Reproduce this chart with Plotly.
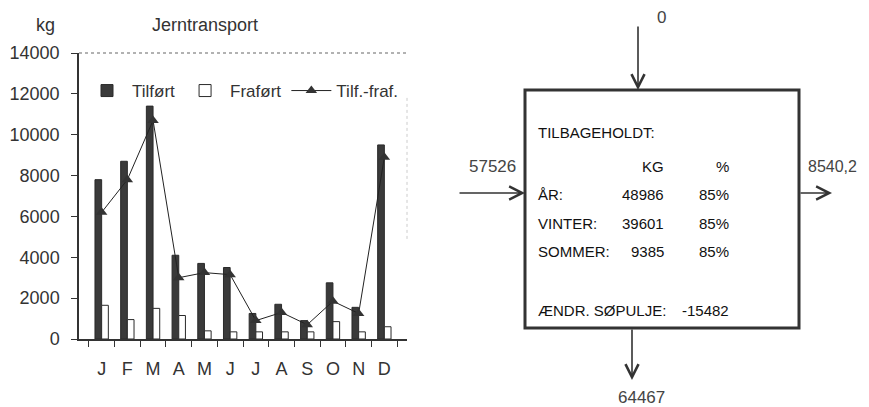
import plotly.graph_objects as go

W, H = 869, 407
OFF = 8  # the page puts the figure 8px in from the top-left corner

months = ["J", "F", "M", "A", "M ", "J ", "J  ", "A ", "S", "O", "N", "D"]
month_labels = ["J", "F", "M", "A", "M", "J", "J", "A", "S", "O", "N", "D"]
tilfort = [7800, 8700, 11400, 4100, 3700, 3500, 1250, 1700, 900, 2750, 1550, 9500]
frafort = [1650, 950, 1500, 1150, 400, 350, 350, 350, 350, 850, 350, 600]
tilf_fraf = [6200, 7800, 10700, 3000, 3250, 3150, 900, 1300, 700, 1850, 1250, 8900]

# diagram numbers
inflow_left = "57526"
inflow_top = "0"
outflow_right = "8540,2"
outflow_bottom = "64467"
rows = ["ÅR:", "VINTER:", "SOMMER:"]
rows_kg = [48986, 39601, 9385]
rows_pct = ["85%", "85%", "85%"]
aendr = -15482

ink = "#333333"
sans = "Liberation Sans, Arial, sans-serif"
axis_font = dict(family=sans, size=18, color=ink)


def px(x):
    return (x - OFF) / W


def py(y):
    return 1 - (y - OFF) / H


fig = go.Figure()
fig.add_trace(go.Bar(x=months, y=tilfort, name="Tilført",
                     marker=dict(color="#3a3a3a", line=dict(color="#2a2a2a", width=1))))
fig.add_trace(go.Bar(x=months, y=frafort, name="Fraført",
                     marker=dict(color="white", line=dict(color="#2a2a2a", width=1))))
fig.add_trace(go.Scatter(x=months, y=tilf_fraf, name="Tilf.-fraf.", mode="lines+markers",
                         line=dict(color="#222", width=1),
                         marker=dict(symbol="triangle-up", size=10, color="#333")))

fig.update_layout(
    width=W, height=H,
    margin=dict(l=0, r=0, t=0, b=0, autoexpand=False),
    paper_bgcolor="white", plot_bgcolor="white",
    barmode="group", bargap=0.48, bargroupgap=0,
    font=axis_font,
    showlegend=True,
    legend=dict(orientation="h", x=px(82), y=py(73), xanchor="left", yanchor="top",
                bgcolor="rgba(0,0,0,0)", font=dict(family=sans, size=17, color=ink),
                itemwidth=40, tracegroupgap=0),
    xaxis=dict(domain=[px(79), px(407)], type="category", automargin=False,
               tickmode="array", tickvals=months, ticktext=month_labels,
               showline=True, linecolor=ink, linewidth=1.5,
               ticks="outside", tickson="boundaries", ticklen=6, tickcolor=ink,
               ticklabelstandoff=13, showgrid=False, zeroline=False),
    yaxis=dict(domain=[py(339), py(53)], range=[0, 14000], dtick=2000, tickformat="d",
               automargin=False,
               showline=True, linecolor=ink, linewidth=1.5,
               ticks="outside", ticklen=6, tickcolor=ink, ticklabelstandoff=8,
               showgrid=False, zeroline=False),
)

# faint top border of the chart area
fig.add_shape(type="line", xref="x domain", yref="y domain", x0=0, x1=1, y0=1, y1=1,
              line=dict(color="#999", width=1.5, dash="dot"))
fig.add_shape(type="line", xref="x domain", yref="y domain", x0=1, x1=1, y0=0.35, y1=0.85,
              line=dict(color="#ccc", width=1, dash="dot"))


def label(t, x, y, font, anchor="center"):
    fig.add_annotation(text=t, x=px(x), y=py(y), xref="paper", yref="paper",
                       xanchor=anchor, yanchor="middle", showarrow=False, font=font)


label("kg", 45, 25, axis_font)
label("Jerntransport", 205, 25, axis_font)

# mass balance box
fig.add_shape(type="rect", xref="paper", yref="paper",
              x0=px(525), x1=px(799), y0=py(328), y1=py(90),
              line=dict(color=ink, width=3))

arrow = dict(showarrow=True, arrowhead=5, arrowsize=1.6, arrowwidth=1.6,
             arrowcolor=ink, xref="paper", yref="paper", text="")
fig.add_annotation(x=px(638), y=py(90), ax=0, ay=-65, **arrow)
fig.add_annotation(x=px(525), y=py(193), ax=-67, ay=0, **arrow)
fig.add_annotation(x=px(832), y=py(193), ax=-33, ay=0, **arrow)
fig.add_annotation(x=px(632), y=py(380), ax=0, ay=-52, **arrow)

flow_font = dict(family=sans, size=17, color="#444")
label(inflow_top, 661, 18, flow_font)
label(inflow_left, 518, 166, flow_font, "right")
label(outflow_right, 859, 166, dict(flow_font, size=16), "right")
label(outflow_bottom, 641, 397, flow_font)

box_font = dict(family=sans, size=15, color="#111")
label("TILBAGEHOLDT:", 536, 133, box_font, "left")
label("KG", 666, 166, box_font, "right")
label("%", 731, 166, box_font, "right")
row_y = [194, 223, 252]
for name, kg, pct, y in zip(rows, rows_kg, rows_pct, row_y):
    label(name, 536, y, box_font, "left")
    label(str(kg), 666, y, box_font, "right")
    label(pct, 731, y, box_font, "right")
label("ÆNDR. SØPULJE:", 536, 310, box_font, "left")
label(str(aendr), 731, 310, box_font, "right")

fig.write_html("out.html")
